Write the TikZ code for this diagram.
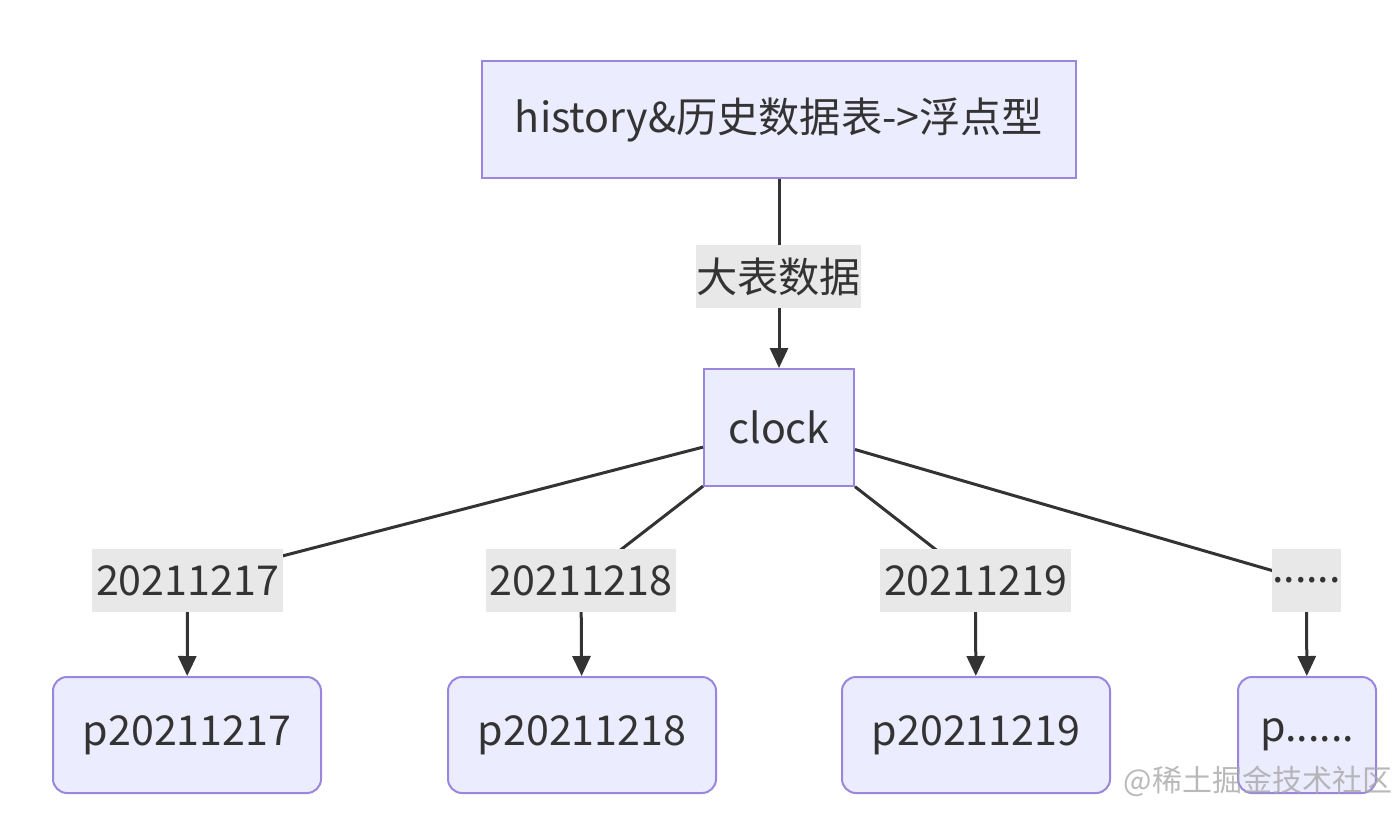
\documentclass[tikz,border=0pt]{standalone}
\usepackage{fontspec}
\setmainfont{Noto Sans CJK SC}
\usetikzlibrary{arrows.meta}
\definecolor{boxfill}{HTML}{ECECFF}
\definecolor{boxline}{HTML}{9A86DC}
\definecolor{lblfill}{HTML}{E8E8E8}
\definecolor{ink}{HTML}{333333}
\definecolor{wm}{HTML}{A8A8A8}
\tikzset{
  x=0.5pt, y=-0.5pt,
  box/.style={draw=boxline, fill=boxfill, line width=1pt, inner sep=0pt, text=ink, font=\fontsize{20.6pt}{24pt}\selectfont, anchor=center},
  rbox/.style={box, rounded corners=7pt},
  lbl/.style={fill=lblfill, inner sep=0pt, text=ink, font=\fontsize{20.6pt}{24pt}\selectfont, minimum height=31.5pt, anchor=center},
  conn/.style={draw=ink, line width=1.5pt, -{Triangle[length=10pt,width=9pt]}},
}
\begin{document}
\begin{tikzpicture}
\useasboundingbox[fill=white] (0,0) rectangle (1400,813);
% nodes
\node[box, minimum width=297pt, minimum height=58.5pt] (hist) at (779,119.5) {history\&历史数据表->浮点型};
\node[box, minimum width=75pt, minimum height=58.5pt] (clock) at (779,427.5) {clock};
\node[rbox, minimum width=134pt, minimum height=58pt] (p1) at (187,735) {p20211217};
\node[rbox, minimum width=134pt, minimum height=58pt] (p2) at (582,735) {p20211218};
\node[rbox, minimum width=134pt, minimum height=58pt] (p3) at (976,735) {p20211219};
\node[rbox, minimum width=69pt, minimum height=58pt] (p4) at (1307,735) {p......};
% connectors
\draw[conn] (hist) -- (clock);
\draw[conn] (clock) -- (187.5,580.5) -- (p1);
\draw[conn] (clock) -- (581,580.5) -- (p2);
\draw[conn] (clock) -- (975.5,580.5) -- (p3);
\draw[conn] (clock) -- (1306.5,580.5) -- (p4);
% edge labels
\node[lbl, minimum width=81.5pt] (l0) at (778.5,276.5) {大表数据};
\node[lbl, minimum width=95.5pt] (l1) at (187.5,580.5) {20211217};
\node[lbl, minimum width=95pt] (l2) at (581,580.5) {20211218};
\node[lbl, minimum width=95.5pt] (l3) at (975.5,580.5) {20211219};
\node[lbl, minimum width=30.5pt] (l4) at (1306.5,580.5) {......};
% watermark
\node[text=wm, opacity=0.8, inner sep=0pt, font=\fontsize{15pt}{18pt}\selectfont] (wmk) at (1258,781) {@稀土掘金技术社区};
\end{tikzpicture}
\end{document}
